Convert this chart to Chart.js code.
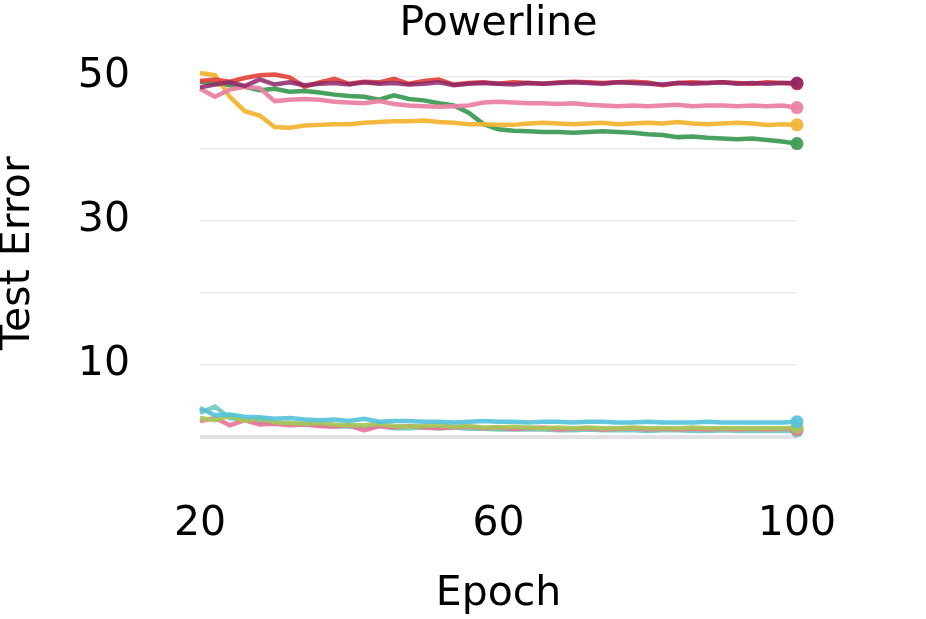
<!DOCTYPE html>
<html>
<head>
<meta charset="utf-8">
<script src="https://cdn.jsdelivr.net/npm/chart.js@4"></script>
<style>
  html, body { margin: 0; padding: 0; background: #fff; }
  #wrap { width: 926px; height: 619px; }
</style>
</head>
<body>
<div id="wrap"><canvas id="chart"></canvas></div>
<script>
// epochs (x)
var epochs = [20,22,24,26,28,30,32,34,36,38,40,42,44,46,48,50,52,54,56,58,60,
              62,64,66,68,70,72,74,76,78,80,82,84,86,88,90,92,94,96,98,100];

// upper group (~40-50)
var purpleVals = [48.5,48.9,49.2,48.7,49.6,48.9,49.2,48.8,49.0,49.1,
                  48.9,49.2,49.0,49.1,48.9,49.0,49.2,48.8,49.0,49.1,
                  49.0,48.9,49.1,49.0,49.1,49.2,49.1,49.0,49.2,49.1,
                  49.0,48.9,49.1,49.0,49.1,49.2,49.0,49.1,49.0,49.1,49.1];
var redVals = [49.4,49.6,49.3,49.8,50.2,50.3,49.9,48.6,49.2,49.7,
               49.0,49.3,49.2,49.7,49.0,49.4,49.6,48.9,49.1,49.2,
               49.0,49.2,49.1,49.0,49.2,49.3,49.2,49.1,49.2,49.3,
               49.2,48.8,49.1,49.2,49.1,49.2,49.1,49.0,49.2,49.1,49.0];
var pinkVals = [48.3,47.2,48.2,48.6,48.4,46.6,46.8,46.9,46.8,46.5,
                46.4,46.3,46.6,46.2,46.0,45.9,45.8,45.9,46.0,46.4,
                46.5,46.4,46.3,46.3,46.2,46.3,46.1,46.0,45.9,46.0,
                45.9,46.0,46.1,45.9,46.0,46.0,45.9,46.0,45.9,46.0,45.7];
var greenVals = [49.3,49.0,48.8,48.6,48.1,48.3,47.9,48.0,47.8,47.5,
                 47.3,47.2,46.8,47.4,46.9,46.7,46.3,46.0,45.0,43.4,
                 42.7,42.5,42.4,42.3,42.3,42.2,42.3,42.4,42.3,42.2,
                 42.0,41.9,41.6,41.7,41.5,41.4,41.3,41.4,41.2,41.0,40.7];
var yellowVals = [50.5,50.2,47.2,45.2,44.6,43.0,42.9,43.2,43.3,43.4,
                  43.4,43.6,43.7,43.8,43.8,43.9,43.7,43.6,43.4,43.4,
                  43.3,43.3,43.5,43.6,43.5,43.4,43.5,43.6,43.4,43.5,
                  43.6,43.5,43.7,43.5,43.4,43.5,43.6,43.5,43.3,43.4,43.3];

// lower group (~1-4)
var cyanVals = [4.0,3.0,3.1,2.8,2.7,2.5,2.6,2.4,2.3,2.4,
                2.2,2.5,2.1,2.2,2.2,2.1,2.1,2.0,2.1,2.2,
                2.1,2.1,2.0,2.1,2.1,2.0,2.1,2.1,2.0,2.0,
                2.1,2.0,2.0,2.0,2.1,2.0,2.0,2.0,2.0,2.0,2.1];
var tealVals = [3.3,4.2,2.6,2.3,2.1,1.9,1.8,1.7,1.6,1.5,
                1.4,1.3,1.5,1.2,1.2,1.3,1.2,1.3,1.1,1.1,
                1.0,1.0,1.0,1.0,0.9,0.9,1.0,0.9,0.9,0.9,
                0.8,0.9,0.9,0.8,0.8,0.9,0.8,0.8,0.8,0.8,0.8];
var limeVals = [2.6,2.3,2.9,2.2,2.6,2.0,1.9,1.8,1.9,1.7,
                1.6,1.6,1.8,1.5,1.4,1.5,1.6,1.4,1.5,1.3,
                1.3,1.4,1.3,1.2,1.3,1.2,1.3,1.2,1.2,1.3,
                1.2,1.2,1.2,1.3,1.2,1.2,1.2,1.2,1.2,1.2,1.3];
var pinkLowVals = [2.2,2.6,1.6,2.3,1.7,1.8,1.6,1.7,1.5,1.4,
                   1.6,0.9,1.5,1.3,1.5,1.3,1.2,1.3,1.4,1.2,
                   1.3,1.1,1.2,1.3,1.0,1.1,1.2,1.0,1.1,1.2,
                   1.0,1.1,1.0,1.1,1.0,1.1,1.0,1.1,1.0,1.1,1.0];

var xTicks = [20, 60, 100];
var yTicks = [0, 10, 20, 30, 40, 50];
var yLabels = [10, 30, 50];

var FONT = 'DejaVu Sans';

function series(label, vals, color) {
    return {
        label: label,
        data: epochs.map(function (e, i) { return { x: e, y: vals[i] }; }),
        borderColor: color,
        backgroundColor: color,
        borderWidth: 4.5,
        tension: 0,
        pointRadius: function (ctx) { return ctx.dataIndex === vals.length - 1 ? 6.5 : 0; },
        pointHoverRadius: 0,
        pointBorderWidth: 0,
        clip: false
    };
}

// big tick paddings would otherwise push the plot area in
function noEdgePadding(scale) {
    scale.paddingTop = 0;
    scale.paddingBottom = 0;
    scale.paddingLeft = 0;
    scale.paddingRight = 0;
}

// chart.js paints the first dataset on top
new Chart(document.getElementById('chart'), {
    type: 'line',
    data: {
        datasets: [
            series('purple', purpleVals, 'rgba(142,38,104,0.85)'),
            series('red', redVals, 'rgba(226,68,58,0.92)'),
            series('pink', pinkVals, 'rgba(234,130,163,0.95)'),
            series('yellow', yellowVals, 'rgba(242,180,52,0.95)'),
            series('green', greenVals, 'rgba(62,156,86,0.95)'),
            series('cyan', cyanVals, 'rgba(82,194,220,0.9)'),
            series('lime', limeVals, 'rgba(165,200,85,0.9)'),
            series('pink low', pinkLowVals, 'rgba(234,115,152,0.9)'),
            series('teal', tealVals, 'rgba(110,200,190,0.9)')
        ]
    },
    options: {
        responsive: true,
        maintainAspectRatio: false,
        animation: false,
        layout: { padding: { left: 0, right: 129, top: 0, bottom: 0 } },
        plugins: {
            legend: { display: false },
            tooltip: { enabled: false },
            title: {
                display: true,
                fullSize: false,
                text: 'Powerline',
                color: '#000',
                font: { family: FONT, size: 41, weight: 'normal' },
                padding: { top: 0, bottom: 13 }
            }
        },
        scales: {
            x: {
                type: 'linear',
                min: 20,
                max: 100,
                afterBuildTicks: function (scale) {
                    scale.ticks = xTicks.map(function (v) { return { value: v }; });
                },
                afterFit: function (scale) { scale.height = 175; noEdgePadding(scale); },
                border: { display: false },
                grid: { display: false, drawTicks: false },
                ticks: {
                    color: '#000',
                    padding: 56,
                    maxRotation: 0,
                    font: { family: FONT, size: 41 }
                },
                title: {
                    display: true,
                    text: 'Epoch',
                    color: '#000',
                    font: { family: FONT, size: 41 },
                    padding: { top: -3, bottom: 0 }
                }
            },
            y: {
                min: -1,
                max: 52,
                afterBuildTicks: function (scale) {
                    scale.ticks = yTicks.map(function (v) { return { value: v }; });
                },
                afterFit: function (scale) { scale.width = 200; noEdgePadding(scale); },
                border: { display: false },
                grid: {
                    drawTicks: false,
                    color: function (ctx) { return ctx.tick && ctx.tick.value === 0 ? '#e2e2e4' : '#eeeeee'; },
                    lineWidth: function (ctx) { return ctx.tick && ctx.tick.value === 0 ? 4 : 1.5; }
                },
                ticks: {
                    color: '#000',
                    padding: 70,
                    font: { family: FONT, size: 41 },
                    callback: function (v) { return yLabels.indexOf(v) >= 0 ? String(v) : ''; }
                },
                title: {
                    display: true,
                    text: 'Test Error',
                    color: '#000',
                    font: { family: FONT, size: 41 },
                    padding: { top: -6, bottom: 0 }
                }
            }
        }
    }
});
</script>
</body>
</html>
